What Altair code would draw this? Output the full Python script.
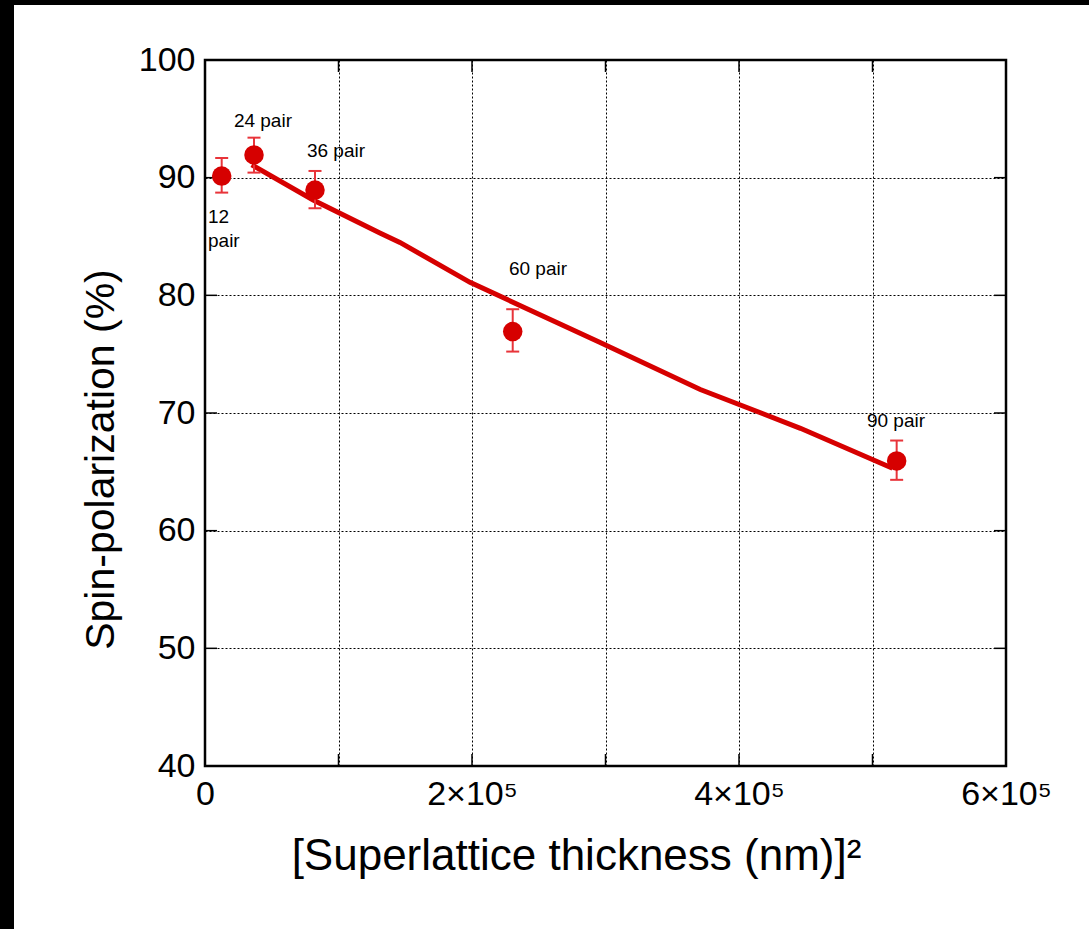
import altair as alt
import pandas as pd

# ---- data ----
labels = ["12 pair", "24 pair", "36 pair", "60 pair", "90 pair"]
thick_sq = [12500, 36700, 82400, 230500, 518100]
polarization = [90.14, 91.93, 88.95, 76.92, 65.93]
err_low = [88.73, 90.43, 87.40, 75.22, 64.32]
err_high = [91.67, 93.40, 90.57, 78.82, 67.66]

fit_x = [35000, 81000, 131000, 146000, 198500, 296000, 371000, 446000, 515000]
fit_y = [91.1, 88.1, 85.3, 84.5, 81.1, 76.0, 72.0, 68.7, 65.3]

ann_text = ["12\npair", "24 pair", "36 pair", "60 pair", "90 pair"]
ann_x = [2250, 43400, 98100, 249400, 517600]
ann_y = [86.15, 94.31, 91.76, 81.73, 68.82]
ann_align = ["left", "center", "center", "center", "center"]

x_grid = [0, 100000, 200000, 300000, 400000, 500000, 600000]
x_tick_labels = ["0", "", "2×10⁵", "", "4×10⁵", "", "6×10⁵"]
y_grid = [40, 50, 60, 70, 80, 90, 100]

W, H = 801, 706
PAD_L, PAD_T, PAD_R, PAD_B = 205, 60, 83, 163
FONT = "Liberation Sans"
RED = "#d60000"
ERR_RED = "#e8343a"

pts = pd.DataFrame({"label": labels, "x": thick_sq, "y": polarization,
                    "lo": err_low, "hi": err_high})
fit = pd.DataFrame({"x": fit_x, "y": fit_y})
ann = pd.DataFrame({"text": ann_text, "x": ann_x, "y": ann_y, "align": ann_align})
xg = pd.DataFrame({"x": x_grid})
yg = pd.DataFrame({"y": y_grid})

label_expr = " : ".join(
    [f"datum.value == {v} ? '{t}'" for v, t in zip(x_grid, x_tick_labels)]
) + " : ''"

xscale = alt.Scale(domain=[0, 600000], nice=False, zero=False)
yscale = alt.Scale(domain=[40, 100], nice=False, zero=False)

xaxis = alt.Axis(values=x_grid, labelExpr=label_expr, grid=True, gridDash=[2, 2],
                 gridColor="black", gridOpacity=1, gridWidth=1, ticks=False, domain=False,
                 labelFontSize=34, labelFont=FONT, labelColor="black", labelPadding=11,
                 labelFlush=False, labelOverlap=False,
                 title="[Superlattice thickness (nm)]²", titleFont=FONT, titleFontSize=44,
                 titleFontWeight="normal", titleColor="black", titlePadding=23,
                 titleX=371)
yaxis = alt.Axis(values=y_grid, grid=True, gridDash=[2, 2], gridColor="black",
                 gridOpacity=1, gridWidth=1, ticks=False, domain=False,
                 labelFontSize=34, labelFont=FONT, labelColor="black", labelPadding=10,
                 labelFlush=False, labelOverlap=False,
                 title="Spin-polarization (%)", titleFont=FONT, titleFontSize=41,
                 titleFontWeight="normal", titleColor="black", titlePadding=16,
                 titleY=399)

base_x = alt.X("x:Q", scale=xscale, axis=xaxis)
base_y = alt.Y("y:Q", scale=yscale, axis=yaxis)

one = pd.DataFrame({"a": [0]})
band_top = alt.Chart(one).mark_rect(color="black").encode(
    x=alt.value(-PAD_L), x2=alt.value(W + PAD_R), y=alt.value(-PAD_T), y2=alt.value(5 - PAD_T))
band_left = alt.Chart(one).mark_rect(color="black").encode(
    x=alt.value(-PAD_L), x2=alt.value(14 - PAD_L), y=alt.value(-PAD_T), y2=alt.value(H + PAD_B))

fit_line = alt.Chart(fit).mark_line(color=RED, strokeWidth=5, interpolate="linear").encode(
    x=base_x, y=base_y)

err_rule = alt.Chart(pts).mark_rule(color=ERR_RED, strokeWidth=2).encode(
    x=alt.X("x:Q", scale=xscale), y=alt.Y("lo:Q", scale=yscale), y2="hi:Q")
cap_lo = alt.Chart(pts).mark_tick(color=ERR_RED, thickness=2, size=13, orient="horizontal",
                                  opacity=1).encode(
    x=alt.X("x:Q", scale=xscale), y=alt.Y("lo:Q", scale=yscale))
cap_hi = alt.Chart(pts).mark_tick(color=ERR_RED, thickness=2, size=13, orient="horizontal",
                                  opacity=1).encode(
    x=alt.X("x:Q", scale=xscale), y=alt.Y("hi:Q", scale=yscale))

points = alt.Chart(pts).mark_point(filled=True, shape="circle", size=380, color=RED,
                                   opacity=1).encode(
    x=alt.X("x:Q", scale=xscale), y=alt.Y("y:Q", scale=yscale))

ann_layers = []
for al in ["left", "center"]:
    ann_layers.append(
        alt.Chart(ann[ann["align"] == al]).mark_text(
            font=FONT, fontSize=19, color="black", align=al, baseline="alphabetic",
            lineBreak="\n", lineHeight=24).encode(
            x=alt.X("x:Q", scale=xscale), y=alt.Y("y:Q", scale=yscale), text="text:N"))

tick_len = 12
tick_b = alt.Chart(xg).mark_rule(color="black", strokeWidth=1.5).encode(
    x=alt.X("x:Q", scale=xscale), y=alt.value(H), y2=alt.value(H - tick_len))
tick_t = alt.Chart(xg).mark_rule(color="black", strokeWidth=1.5).encode(
    x=alt.X("x:Q", scale=xscale), y=alt.value(0), y2=alt.value(tick_len))
tick_l = alt.Chart(yg).mark_rule(color="black", strokeWidth=1.5).encode(
    y=alt.Y("y:Q", scale=yscale), x=alt.value(0), x2=alt.value(tick_len))
tick_r = alt.Chart(yg).mark_rule(color="black", strokeWidth=1.5).encode(
    y=alt.Y("y:Q", scale=yscale), x=alt.value(W), x2=alt.value(W - tick_len))

chart = alt.layer(
    fit_line, band_top, band_left, tick_b, tick_t, tick_l, tick_r,
    err_rule, cap_lo, cap_hi, points, *ann_layers
).properties(
    width=W, height=H,
    autosize=alt.AutoSizeParams(type="none"),
    padding={"left": PAD_L, "top": PAD_T, "right": PAD_R, "bottom": PAD_B},
    background="white",
).configure_view(
    stroke="black", strokeWidth=2.5, fill="white"
)

chart.save("out.html", embed_options={"renderer": "svg", "actions": False})
